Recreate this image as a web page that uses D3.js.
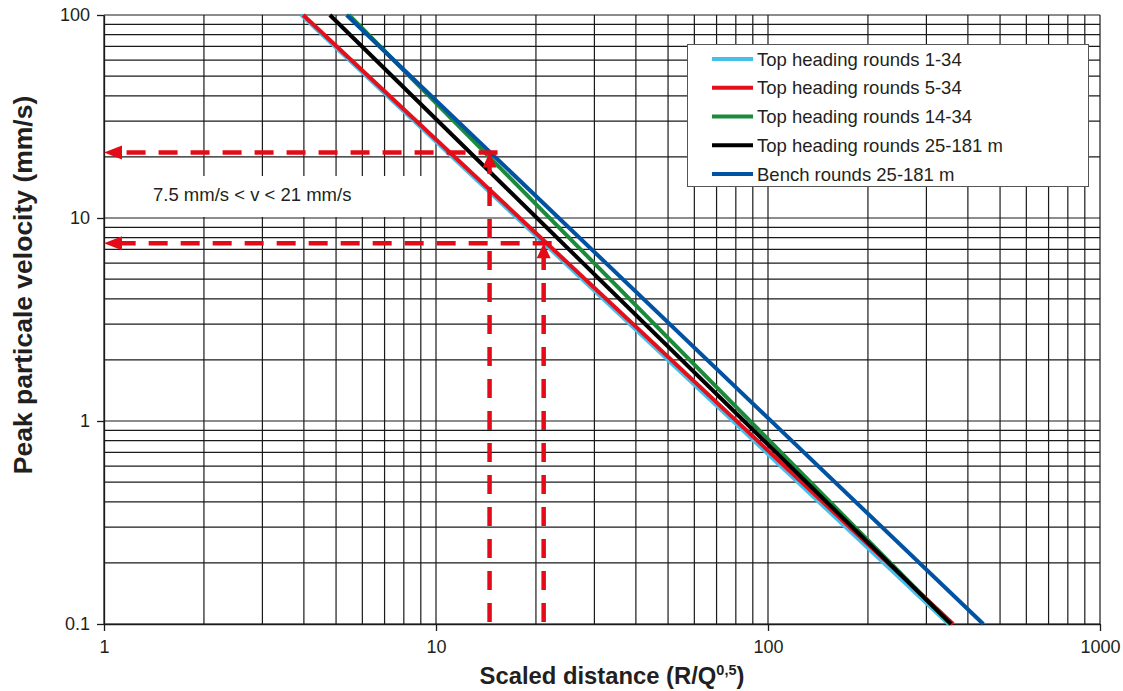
<!DOCTYPE html>
<html>
<head>
<meta charset="utf-8">
<script src="https://cdn.jsdelivr.net/npm/d3@7"></script>
<style>
  html, body { margin: 0; padding: 0; background: #fff; }
  svg { display: block; font-family: Arial, "Liberation Sans", Helvetica, sans-serif; }
</style>
</head>
<body>
<svg id="chart" width="1123" height="691"></svg>
<script>
// Attenuation lines: scaled distance at 100 mm/s and at 0.1 mm/s
const seriesNames = [
  "Top heading rounds 1-34",
  "Top heading rounds 5-34",
  "Top heading rounds 14-34",
  "Top heading rounds 25-181 m",
  "Bench rounds 25-181 m"
];
const seriesColors = ["#45bfec", "#e3101b", "#1b8a3a", "#000000", "#0052a2"];
const distanceAt100 = [3.93, 3.98, 5.47, 4.79, 5.38];
const distanceAt01 = [350, 361, 355, 356, 445];
const ppvEnds = [100, 0.1];

// Design limits drawn with dashed arrows
const limitVelocity = [21, 7.5];
const limitDistance = [14.5, 21.1];
const limitText = "7.5 mm/s < v < 21 mm/s";

const xTicks = [1, 10, 100, 1000];
const yTicks = [0.1, 1, 10, 100];
const xTitle = "Scaled distance (R/Q";
const xTitleSup = "0,5";
const yTitle = "Peak particale velocity (mm/s)";

const svg = d3.select("#chart");
const x = d3.scaleLog().domain([1, 1000]).range([104, 1100]);
const y = d3.scaleLog().domain([0.1, 100]).range([624, 15]);

// minor/major grid values (1..9 per decade)
function gridValues(lo, hi) {
  const out = [];
  for (let d = lo; d < hi; d *= 10) for (let k = 1; k <= 9; k++) out.push(+(d * k).toPrecision(6));
  out.push(hi);
  return out;
}

const grid = svg.append("g").attr("stroke", "#1a1a1a").attr("stroke-width", 1.2);
grid.selectAll("line.v").data(gridValues(1, 1000)).join("line")
  .attr("class", "v")
  .attr("x1", d => x(d)).attr("x2", d => x(d))
  .attr("y1", y(100)).attr("y2", y(0.1));
grid.selectAll("line.h").data(gridValues(0.1, 100)).join("line")
  .attr("class", "h")
  .attr("y1", d => y(d)).attr("y2", d => y(d))
  .attr("x1", x(1)).attr("x2", x(1000));

// blank label area
svg.append("rect")
  .attr("x", x(1) + 1).attr("y", 176)
  .attr("width", x(10) - x(1) - 2.5).attr("height", 41)
  .attr("fill", "#fff");
svg.append("text")
  .attr("x", 153).attr("y", 201)
  .attr("font-size", 18.5).attr("fill", "#231f20")
  .text(limitText);

// axes
const xAxis = svg.append("g").attr("transform", `translate(0,${y(0.1)})`)
  .call(d3.axisBottom(x).tickValues(xTicks).tickFormat(d3.format("d")).tickSize(7).tickSizeOuter(0));
const yAxis = svg.append("g").attr("transform", `translate(${x(1)},0)`)
  .call(d3.axisLeft(y).tickValues(yTicks).tickFormat(d => d < 1 ? "0.1" : d3.format("d")(d)).tickSize(7).tickSizeOuter(0));
[xAxis, yAxis].forEach(g => {
  g.attr("font-family", null).attr("font-size", null);
  g.select(".domain").attr("stroke", "#1a1a1a").attr("stroke-width", 1.3);
  g.selectAll(".tick line").attr("stroke", "#1a1a1a").attr("stroke-width", 1.3);
  g.selectAll(".tick text").style("font-size", "18px").attr("fill", "#231f20");
});
xAxis.selectAll(".tick text").attr("y", 13).attr("dy", "0.9em");
yAxis.selectAll(".tick text").attr("x", -14);

// attenuation lines
const line = d3.line().x(d => x(d[0])).y(d => y(d[1]));
const drawOrder = [0, 1, 2, 4, 3];
svg.append("g").selectAll("path").data(drawOrder).join("path")
  .attr("d", i => line([[distanceAt100[i], ppvEnds[0]], [distanceAt01[i], ppvEnds[1]]]))
  .attr("fill", "none")
  .attr("stroke", i => seriesColors[i])
  .attr("stroke-width", 4);

// dashed limit arrows
const red = "#e30b17";
const arr = svg.append("g");
limitVelocity.forEach((v, i) => {
  const xd = x(limitDistance[i]), yv = y(v);
  // horizontal dashes toward the velocity axis
  arr.append("line")
    .attr("x1", xd + 8).attr("x2", x(1) + 17)
    .attr("y1", yv).attr("y2", yv)
    .attr("stroke", red).attr("stroke-width", 4.5)
    .attr("stroke-dasharray", "19,13");
  arr.append("path")
    .attr("d", `M${x(1)},${yv}L${x(1) + 18},${yv - 7}L${x(1) + 18},${yv + 7}Z`)
    .attr("fill", red);
  // vertical dashes from the distance axis
  arr.append("line")
    .attr("x1", xd).attr("x2", xd)
    .attr("y1", y(0.1) - 2).attr("y2", yv + 14)
    .attr("stroke", red).attr("stroke-width", 4.5)
    .attr("stroke-dasharray", "19,13");
  arr.append("path")
    .attr("d", `M${xd},${yv}L${xd - 7},${yv + 15}L${xd + 7},${yv + 15}Z`)
    .attr("fill", red);
});

// legend
const lg = svg.append("g");
lg.append("rect")
  .attr("x", 687.5).attr("y", 44.5).attr("width", 401).attr("height", 142)
  .attr("fill", "#fff").attr("stroke", "#555").attr("stroke-width", 1);
seriesNames.forEach((name, i) => {
  const cy = 59 + i * 28.75;
  lg.append("line")
    .attr("x1", 712).attr("x2", 753).attr("y1", cy).attr("y2", cy)
    .attr("stroke", seriesColors[i]).attr("stroke-width", 4);
  lg.append("text")
    .attr("x", 757).attr("y", cy + 6.5)
    .attr("font-size", 18.5).attr("fill", "#231f20")
    .text(name);
});

// axis titles
const xt = svg.append("text")
  .attr("x", 612).attr("y", 684)
  .attr("text-anchor", "middle")
  .attr("font-size", 23.8).attr("font-weight", "bold").attr("fill", "#231f20");
xt.append("tspan").text(xTitle);
xt.append("tspan").attr("font-size", 14.5).attr("dy", -9).text(xTitleSup);
xt.append("tspan").attr("dy", 9).text(")");

svg.append("text")
  .attr("transform", `translate(32,285) rotate(-90)`)
  .attr("text-anchor", "middle")
  .attr("font-size", 26.5).attr("font-weight", "bold").attr("fill", "#231f20")
  .text(yTitle);
</script>
</body>
</html>
